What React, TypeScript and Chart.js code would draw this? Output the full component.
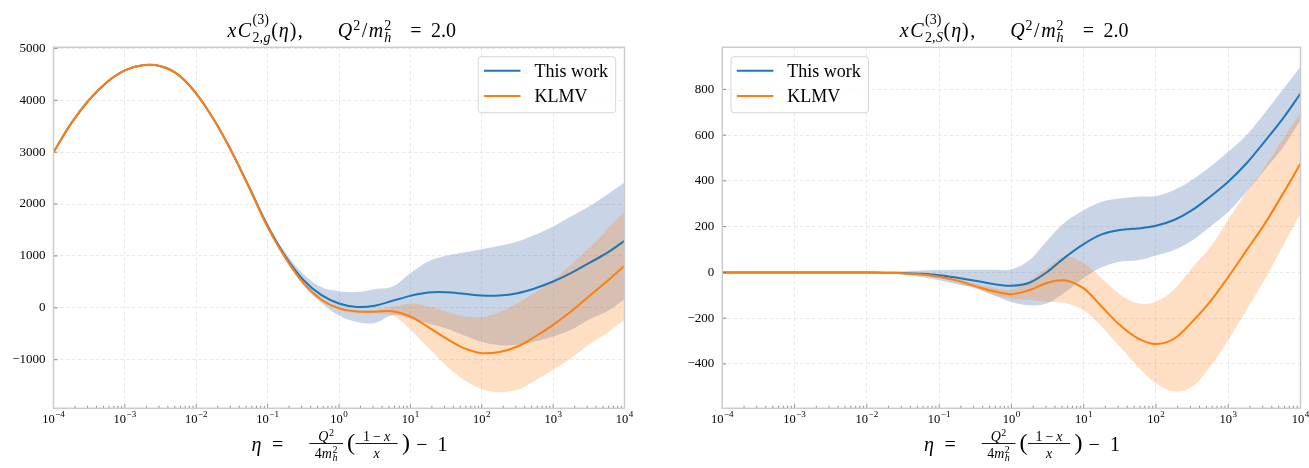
import React, { useEffect, useRef } from 'react';
import { Chart, registerables } from 'chart.js';

Chart.register(...registerables);

// eta grid: quarter-decade steps from 1e-4 to 1e4
const ETA_EXP = [
  -4, -3.75, -3.5, -3.25, -3, -2.75, -2.5, -2.25, -2, -1.75, -1.5, -1.25, -1, -0.75, -0.5, -0.25,
  0, 0.25, 0.5, 0.75, 1, 1.25, 1.5, 1.75, 2, 2.25, 2.5, 2.75, 3, 3.25, 3.5, 3.75, 4,
];
const ETA = ETA_EXP.map((k) => Math.pow(10, k));
const DECADE_EXP = [-4, -3, -2, -1, 0, 1, 2, 3, 4];
const Y_TICKS_G = [-1000, 0, 1000, 2000, 3000, 4000, 5000];
const Y_TICKS_S = [-400, -200, 0, 200, 400, 600, 800];

// gluon coefficient x C^(3)_{2,g}
const G_THIS = [
  3000, 3560, 4010, 4350, 4575, 4675, 4655, 4490, 4130, 3620, 3000, 2300, 1580, 990, 540, 250,
  85, 18, 40, 135, 231, 295, 300, 270, 238, 238, 283, 379, 507, 668, 861, 1053, 1291,
];
const G_THIS_HI = [
  3000, 3560, 4010, 4350, 4575, 4675, 4655, 4492, 4136, 3632, 3022, 2340, 1640, 1065, 650, 400,
  320, 305, 360, 411, 668, 893, 1002, 1066, 1130, 1195, 1278, 1407, 1567, 1760, 1952, 2177, 2415,
];
const G_THIS_LO = [
  3000, 3560, 4010, 4350, 4575, 4675, 4655, 4488, 4124, 3608, 2978, 2260, 1520, 915, 430, 100,
  -150, -275, -290, -141, -206, -303, -398, -526, -654, -719, -712, -649, -553, -424, -230, -71, 167,
];
const G_KLMV = [
  3000, 3560, 4010, 4350, 4575, 4675, 4655, 4490, 4130, 3620, 3000, 2290, 1555, 960, 480, 160,
  -10, -70, -75, -65, -167, -370, -590, -777, -873, -850, -745, -552, -328, -70, 218, 507, 809,
];
const G_KLMV_HI = [
  3000, 3560, 4010, 4350, 4575, 4675, 4655, 4490, 4130, 3620, 3000, 2300, 1570, 975, 500, 185,
  15, -45, -40, 15, 83, 25, -70, -167, -179, -83, 90, 296, 539, 830, 1149, 1502, 1849,
];
const G_KLMV_LO = [
  3000, 3560, 4010, 4350, 4575, 4675, 4655, 4490, 4130, 3620, 3000, 2280, 1540, 945, 460, 135,
  -35, -95, -110, -145, -417, -765, -1110, -1387, -1567, -1625, -1580, -1400, -1195, -970, -713, -488, -231,
];

// pure-singlet coefficient x C^(3)_{2,S}
const S_THIS = [
  0, 0, 0, 0, 0, 0, 0, 0, 0, -1, -3, -6, -12, -23, -36, -51,
  -58, -45, 3, 68, 124, 166, 185, 192, 204, 229, 272, 331, 396, 476, 571, 670, 782,
];
const S_THIS_HI = [
  0, 0, 0, 0, 0, 0, 0, 0, 0, 2, 5, 8, 10, 12, 12, 12,
  13, 54, 141, 221, 272, 309, 323, 331, 334, 360, 404, 462, 527, 600, 695, 797, 899,
];
const S_THIS_LO = [
  0, 0, 0, 0, 0, 0, 0, 0, 0, -4, -10, -20, -34, -52, -68, -100,
  -129, -144, -135, -85, -24, 23, 47, 53, 74, 98, 140, 200, 265, 352, 447, 543, 665,
];
const S_KLMV = [
  0, 0, 0, 0, 0, 0, 0, 0, 0, -1, -4, -9, -19, -36, -60, -82,
  -95, -77, -45, -35, -70, -150, -230, -288, -313, -290, -216, -128, -20, 95, 210, 340, 476,
];
const S_KLMV_HI = [
  0, 0, 0, 0, 0, 0, 0, 0, 0, 0, -2, -6, -14, -28, -50, -67,
  -75, -35, 22, 68, 40, -25, -95, -135, -128, -75, 20, 110, 230, 350, 458, 580, 698,
];
const S_KLMV_LO = [
  0, 0, 0, 0, 0, 0, 0, 0, 0, -2, -6, -12, -24, -44, -70, -97,
  -115, -120, -128, -135, -165, -237, -325, -412, -485, -521, -500, -412, -296, -165, -34, 112, 258,
];

const SERIES_NAMES = ['This work', 'KLMV'];

const BLUE = '#1f77b4';
const ORANGE = '#ff7f0e';
const BLUE_BAND = 'rgba(76, 114, 176, 0.3)';
const ORANGE_BAND = 'rgba(255, 127, 14, 0.25)';
const GRID = '#e3e3e3';
const FRAME = '#cccccc';
const TICK = '#6e6e6e';
const SERIF = '"Liberation Serif", "Times New Roman", Times, serif';

const pts = (arr: number[]) => ETA.map((x, i) => ({ x, y: arr[i] }));

// ---- small text-run layout for the math labels ----
type Run =
  | { t: string; it?: boolean; s: number; dy?: number }
  | { gap: number }
  | { stack: [Run[], Run[]]; up: number; down: number };

function setFont(ctx: CanvasRenderingContext2D, it: boolean | undefined, s: number) {
  ctx.font = `${it ? 'italic ' : ''}${s}px ${SERIF}`;
}

function runsWidth(ctx: CanvasRenderingContext2D, runs: Run[]): number {
  let w = 0;
  for (const r of runs) {
    if ('gap' in r) w += r.gap;
    else if ('stack' in r) w += Math.max(runsWidth(ctx, r.stack[0]), runsWidth(ctx, r.stack[1]));
    else {
      setFont(ctx, r.it, r.s);
      w += ctx.measureText(r.t).width;
    }
  }
  return w;
}

function drawRuns(ctx: CanvasRenderingContext2D, runs: Run[], x: number, y: number): number {
  for (const r of runs) {
    if ('gap' in r) x += r.gap;
    else if ('stack' in r) {
      const a = drawRuns(ctx, r.stack[0], x, y - r.up);
      const b = drawRuns(ctx, r.stack[1], x, y + r.down);
      x = Math.max(a, b);
    } else {
      setFont(ctx, r.it, r.s);
      ctx.textAlign = 'left';
      ctx.textBaseline = 'alphabetic';
      ctx.fillText(r.t, x, y + (r.dy || 0));
      x += ctx.measureText(r.t).width;
    }
  }
  return x;
}

function drawCentered(ctx: CanvasRenderingContext2D, runs: Run[], cx: number, y: number) {
  const w = runsWidth(ctx, runs);
  drawRuns(ctx, runs, cx - w / 2, y);
  return w;
}

function bar(ctx: CanvasRenderingContext2D, x0: number, x1: number, y: number) {
  ctx.strokeStyle = '#000';
  ctx.lineWidth = 0.9;
  ctx.beginPath();
  ctx.moveTo(x0, y);
  ctx.lineTo(x1, y);
  ctx.stroke();
}

// x C^{(3)}_{2,sub}(eta),  Q^2/m_h^2 = 2.0
function drawTitle(ctx: CanvasRenderingContext2D, cx: number, sub: string) {
  const B = 37;
  ctx.fillStyle = '#000';
  drawCentered(
    ctx,
    [
      { t: 'x', it: true, s: 20 },
      { gap: 1.5 },
      { t: 'C', it: true, s: 20 },
      { gap: 1.5 },
      {
        stack: [
          [{ t: '(3)', s: 14 }],
          [{ t: '2,', s: 14 }, { gap: 0.5 }, { t: sub, it: true, s: 14 }],
        ],
        up: 13,
        down: 5,
      },
    ],
    cx - 90,
    B
  );
  drawCentered(
    ctx,
    [
      { t: '(', s: 20 },
      { gap: 1 },
      { t: 'η', it: true, s: 20 },
      { gap: 1 },
      { t: ')', s: 20 },
      { gap: 1.5 },
      { t: ',', s: 20 },
    ],
    cx - 52,
    B
  );
  drawCentered(
    ctx,
    [
      { t: 'Q', it: true, s: 20 },
      { gap: 1 },
      { t: '2', s: 14, dy: -7 },
      { gap: 1.5 },
      { t: '/', s: 20 },
      { gap: 1.5 },
      { t: 'm', it: true, s: 20 },
      { gap: 1 },
      { stack: [[{ t: '2', s: 14 }], [{ t: 'h', it: true, s: 14 }]], up: 7, down: 5 },
    ],
    cx + 25.5,
    B
  );
  drawCentered(ctx, [{ t: '=', s: 20 }], cx + 77, B);
  drawCentered(ctx, [{ t: '2.0', s: 20 }], cx + 104.5, B);
}

// eta = Q^2/(4 m_h^2) ((1-x)/x) - 1
function drawXLabel(ctx: CanvasRenderingContext2D, cx: number) {
  const B = 451;
  const NUM = 441;
  const DEN = 457.5;
  const BAR = 443.5;
  ctx.fillStyle = '#000';
  drawCentered(ctx, [{ t: 'η', it: true, s: 20 }], cx - 82.5, B);
  drawCentered(ctx, [{ t: '=', s: 20 }], cx - 61.3, B);

  // first fraction
  bar(ctx, cx - 29.7, cx + 4, BAR);
  const c1 = cx - 12.85;
  drawCentered(ctx, [{ t: 'Q', it: true, s: 14 }, { gap: 0.5 }, { t: '2', s: 10, dy: -5 }], c1, NUM);
  drawCentered(
    ctx,
    [
      { t: '4', s: 14 },
      { t: 'm', it: true, s: 14 },
      { gap: 0.5 },
      { stack: [[{ t: '2', s: 10 }], [{ t: 'h', it: true, s: 10 }]], up: 5, down: 3.5 },
    ],
    c1,
    DEN
  );

  drawRuns(ctx, [{ t: '(', s: 24 }], cx + 8, 450);

  // second fraction
  bar(ctx, cx + 16.6, cx + 58.6, BAR);
  const c2 = cx + 37.6;
  drawCentered(
    ctx,
    [{ t: '1', s: 14 }, { gap: 3 }, { t: '−', s: 14 }, { gap: 3 }, { t: 'x', it: true, s: 14 }],
    c2,
    NUM
  );
  drawCentered(ctx, [{ t: 'x', it: true, s: 14 }], c2, DEN);

  drawRuns(ctx, [{ t: ')', s: 24 }], cx + 63, 450);
  drawCentered(ctx, [{ t: '−', s: 20 }], cx + 82.8, B);
  drawCentered(ctx, [{ t: '1', s: 20 }], cx + 103.5, B);
}

type PanelCfg = {
  sub: string;
  yMin: number;
  yMax: number;
  yTicks: number[];
  axisW: number;
  padRight: number;
  legendSide: 'left' | 'right';
  thisLine: number[];
  thisHi: number[];
  thisLo: number[];
  klmvLine: number[];
  klmvHi: number[];
  klmvLo: number[];
};

function makeDecor(cfg: PanelCfg) {
  return {
    id: 'decor',
    afterDraw(chart: any) {
      const { ctx, chartArea: a, scales } = chart;
      const xs = scales.x;
      const ys = scales.y;
      ctx.save();

      // inward tick marks
      ctx.strokeStyle = TICK;
      ctx.lineWidth = 0.8;
      ctx.beginPath();
      ys.ticks.forEach((t: any) => {
        const py = ys.getPixelForValue(t.value);
        ctx.moveTo(a.left, py);
        ctx.lineTo(a.left + 4, py);
      });
      DECADE_EXP.forEach((k) => {
        const px = xs.getPixelForValue(Math.pow(10, k));
        ctx.moveTo(px, a.bottom);
        ctx.lineTo(px, a.bottom - 4);
        if (k < 4) {
          for (let m = 2; m <= 9; m++) {
            const pm = xs.getPixelForValue(m * Math.pow(10, k));
            ctx.moveTo(pm, a.bottom);
            ctx.lineTo(pm, a.bottom - 2.5);
          }
        }
      });
      ctx.stroke();

      // axes frame
      ctx.strokeStyle = FRAME;
      ctx.lineWidth = 1.5;
      ctx.strokeRect(a.left, a.top, a.right - a.left, a.bottom - a.top);

      // x tick labels 10^k
      ctx.fillStyle = '#000';
      DECADE_EXP.forEach((k) => {
        const px = xs.getPixelForValue(Math.pow(10, k));
        const ex = k < 0 ? '\u2212' + Math.abs(k) : String(k);
        drawCentered(
          ctx,
          [{ t: '10', s: 12.5 }, { gap: 0.5 }, { t: ex, s: 9, dy: -6.4 }],
          px,
          a.bottom + 14.7
        );
      });

      // legend
      const entries = [
        { label: SERIES_NAMES[0], color: BLUE },
        { label: SERIES_NAMES[1], color: ORANGE },
      ];
      setFont(ctx, false, 18);
      const tw = Math.max(...entries.map((en) => ctx.measureText(en.label).width));
      const w = 56.3 + tw + 7.7;
      const h = 56;
      const bx = cfg.legendSide === 'right' ? a.right - 8.8 - w : a.left + 8.7;
      const by = a.top + 9.4;
      ctx.beginPath();
      ctx.roundRect(bx, by, w, h, 3);
      ctx.fillStyle = 'rgba(255,255,255,0.8)';
      ctx.fill();
      ctx.strokeStyle = 'rgba(204,204,204,0.8)';
      ctx.lineWidth = 1;
      ctx.stroke();
      entries.forEach((en, i) => {
        const ly = by + 14 + i * 25.3;
        ctx.strokeStyle = en.color;
        ctx.lineWidth = 2;
        ctx.beginPath();
        ctx.moveTo(bx + 5.8, ly);
        ctx.lineTo(bx + 42.3, ly);
        ctx.stroke();
        ctx.fillStyle = '#000';
        drawRuns(ctx, [{ t: en.label, s: 18 }], bx + 56.3, ly + 6.3);
      });

      const cx = (a.left + a.right) / 2;
      drawTitle(ctx, cx, cfg.sub);
      drawXLabel(ctx, cx);
      ctx.restore();
    },
  };
}

function buildChart(canvas: HTMLCanvasElement, cfg: PanelCfg) {
  const line = (label: string, data: number[], color: string) => ({
    label,
    data: pts(data),
    borderColor: color,
    backgroundColor: color,
    borderWidth: 2,
    pointRadius: 0,
    fill: false,
    tension: 0.35,
  });
  const edge = (label: string, data: number[], fill: any, bg: string) => ({
    label,
    data: pts(data),
    borderWidth: 0,
    borderColor: 'rgba(0,0,0,0)',
    backgroundColor: bg,
    pointRadius: 0,
    fill,
    tension: 0.35,
  });

  const gridOpts = { color: GRID, lineWidth: 0.8, drawTicks: false };
  const borderOpts = { display: false, dash: [3.5, 2.5] };

  return new Chart(canvas, {
    type: 'line',
    data: {
      datasets: [
        line(SERIES_NAMES[1], cfg.klmvLine, ORANGE),
        line(SERIES_NAMES[0], cfg.thisLine, BLUE),
        edge('KLMV upper', cfg.klmvHi, '+1', ORANGE_BAND),
        edge('KLMV lower', cfg.klmvLo, false, ORANGE_BAND),
        edge('This work upper', cfg.thisHi, '+1', BLUE_BAND),
        edge('This work lower', cfg.thisLo, false, BLUE_BAND),
      ],
    },
    options: {
      responsive: false,
      animation: false,
      events: [],
      layout: { padding: { left: 0, right: cfg.padRight, top: 47.3, bottom: 0 } },
      plugins: {
        legend: { display: false },
        title: { display: false },
        tooltip: { enabled: false },
      },
      scales: {
        x: {
          type: 'logarithmic',
          min: 1e-4,
          max: 1e4,
          afterBuildTicks: (s: any) => {
            s.ticks = DECADE_EXP.map((k) => ({ value: Math.pow(10, k) }));
          },
          afterFit: (s: any) => {
            s.height = 59.7;
          },
          ticks: { display: false },
          grid: gridOpts,
          border: borderOpts,
        },
        y: {
          type: 'linear',
          min: cfg.yMin,
          max: cfg.yMax,
          afterBuildTicks: (s: any) => {
            s.ticks = cfg.yTicks.map((v) => ({ value: v }));
          },
          afterFit: (s: any) => {
            s.width = cfg.axisW;
          },
          ticks: {
            padding: 8,
            color: '#000',
            font: { family: SERIF, size: 13 },
            callback: (v: any) => (Number(v) < 0 ? '\u2212' + Math.abs(Number(v)) : String(v)),
          },
          grid: gridOpts,
          border: borderOpts,
        },
      },
    } as any,
    plugins: [makeDecor(cfg)],
  });
}

const GLUON: PanelCfg = {
  sub: 'g',
  yMin: -1936,
  yMax: 5021,
  yTicks: Y_TICKS_G,
  axisW: 53.5,
  padRight: 30.5,
  legendSide: 'right',
  thisLine: G_THIS,
  thisHi: G_THIS_HI,
  thisLo: G_THIS_LO,
  klmvLine: G_KLMV,
  klmvHi: G_KLMV_HI,
  klmvLo: G_KLMV_LO,
};

const SINGLET: PanelCfg = {
  sub: 'S',
  yMin: -594,
  yMax: 984,
  yTicks: Y_TICKS_S,
  axisW: 67.3,
  padRight: 8.5,
  legendSide: 'left',
  thisLine: S_THIS,
  thisHi: S_THIS_HI,
  thisLo: S_THIS_LO,
  klmvLine: S_KLMV,
  klmvHi: S_KLMV_HI,
  klmvLo: S_KLMV_LO,
};

function Panel({ left, w, cfg }: { left: number; w: number; cfg: PanelCfg }) {
  const ref = useRef<HTMLCanvasElement>(null);
  useEffect(() => {
    const chart = buildChart(ref.current as HTMLCanvasElement, cfg);
    return () => chart.destroy();
  }, [cfg]);
  return (
    <canvas
      ref={ref}
      width={w}
      height={468}
      style={{ position: 'absolute', left, top: 0, width: w, height: 468 }}
    />
  );
}

export default function App() {
  return (
    <div
      style={{
        position: 'fixed',
        left: 0,
        top: 0,
        width: 1309,
        height: 468,
        overflow: 'hidden',
        background: '#fff',
      }}
    >
      <Panel left={0} w={655} cfg={GLUON} />
      <Panel left={655} w={654} cfg={SINGLET} />
    </div>
  );
}
